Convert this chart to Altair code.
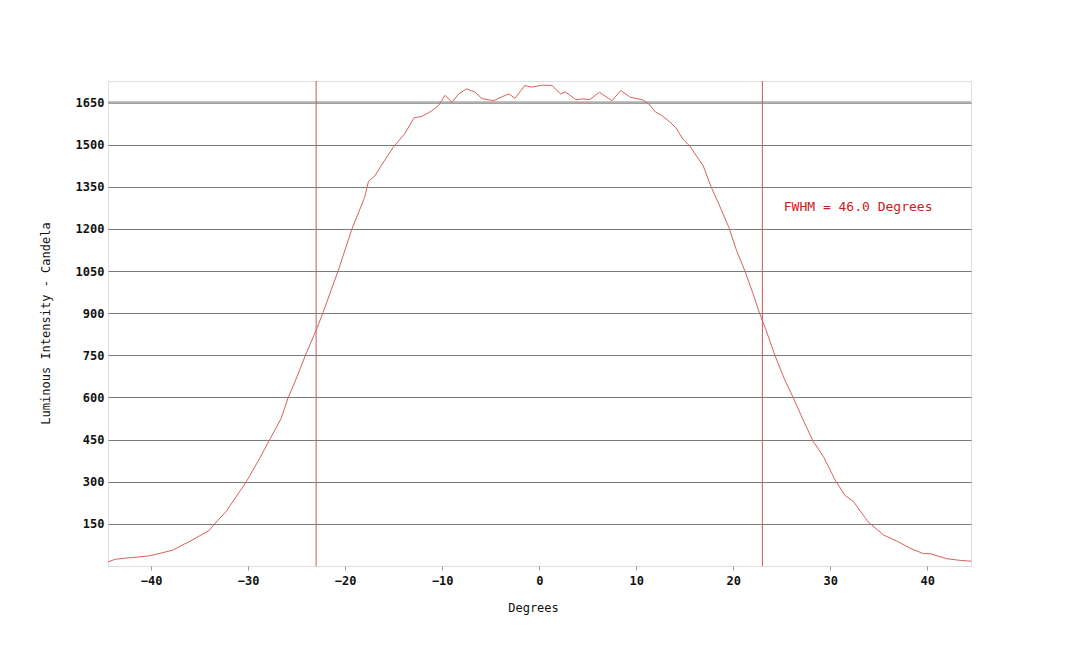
import altair as alt
import pandas as pd

degrees = [-44.5, -43.7, -42.0, -40.2, -37.8, -35.8, -34.0, -33.5, -32.3, -30.2,
           -28.9, -27.8, -26.6, -25.9, -25.1, -24.1, -22.9, -22.3, -20.7, -19.3,
           -18.0, -17.6, -16.95, -16.3, -15.05, -13.85, -12.9, -12.1, -11.1, -10.4,
           -9.7, -9.0, -8.3, -7.5, -6.6, -5.9, -4.7, -3.5, -3.1, -2.5,
           -1.5, -0.8, 0.3, 1.3, 2.2, 2.7, 3.8, 4.4, 5.2, 6.2,
           7.5, 8.4, 9.4, 10.65, 11.3, 12.0, 12.6, 13.4, 14.1, 14.8,
           15.5, 16.9, 17.7, 18.6, 19.55, 20.3, 21.2, 22.0, 22.7, 23.35,
           24.3, 25.3, 26.2, 27.2, 28.25, 29.3, 30.5, 31.5, 32.4, 33.9,
           35.5, 36.9, 38.3, 39.6, 40.3, 42.0, 43.4, 44.5]
candela = [14, 24, 30, 36, 56, 92, 127, 149, 193, 300,
           378, 449, 526, 598, 663, 750, 848, 901, 1054, 1201,
           1312, 1370, 1389, 1425, 1491, 1540, 1596, 1601, 1620, 1639,
           1676, 1651, 1681, 1699, 1687, 1664, 1657, 1676, 1681, 1665,
           1711, 1705, 1712, 1711, 1681, 1688, 1660, 1663, 1661, 1687,
           1657, 1693, 1669, 1660, 1645, 1616, 1605, 1583, 1560, 1520,
           1496, 1425, 1351, 1282, 1205, 1127, 1050, 973, 901, 842,
           749, 663, 598, 520, 443, 389, 306, 252, 229, 157,
           110, 88, 62, 44, 44, 26, 20, 17]

fwhm_x = [-23.0, 23.0]
y_ticks = [150, 300, 450, 600, 750, 900, 1050, 1200, 1350, 1500, 1650]
x_ticks = [-40, -30, -20, -10, 0, 10, 20, 30, 40]
note_text = ["FWHM = 46.0 Degrees"]
note_x = [25.2]
note_y = [1277]

FONT = "DejaVu Sans Mono"
XDOM = [-44.45, 44.5]
YDOM = [0, 1727]

curve = pd.DataFrame({"deg": degrees, "cd": candela})
fw = pd.DataFrame({"x": fwhm_x})
note = pd.DataFrame({"t": note_text, "x": note_x, "y": note_y})
top = pd.DataFrame({"y": [1650]})

xscale = alt.Scale(domain=XDOM, nice=False, zero=False)
yscale = alt.Scale(domain=YDOM, nice=False, zero=False)

line = alt.Chart(curve).mark_line(color="#d9605f", strokeWidth=1, clip=True).encode(
    x=alt.X("deg:Q", scale=xscale,
            axis=alt.Axis(values=x_ticks, title="Degrees", grid=False, tickSize=4,
                          tickColor="#999999", domain=False, format="d", labelFont=FONT,
                          labelFontWeight="bold", labelFontSize=12, labelColor="#111111",
                          labelPadding=5, titleFont=FONT, titleFontSize=12,
                          titleFontWeight="normal", titleColor="#111111",
                          titleX=425, titleY=41, titleBaseline="middle")),
    y=alt.Y("cd:Q", scale=yscale,
            axis=alt.Axis(values=y_ticks, title="Luminous Intensity - Candela", grid=True,
                          gridColor="#7a7a7a", gridWidth=1, tickSize=0, domain=False,
                          format="d", labelFont=FONT, labelFontWeight="bold", labelFontSize=12,
                          labelColor="#111111", labelPadding=4, titleFont=FONT,
                          titleFontSize=12, titleFontWeight="normal", titleColor="#111111",
                          titleX=-63, titleY=242, titleBaseline="middle", titleAngle=-90)),
)

toprule = alt.Chart(top).mark_rule(color="#b0b0b0", strokeWidth=2.5).encode(
    y=alt.Y("y:Q", scale=yscale)
)

fwhm = alt.Chart(fw).mark_rule(color="#c25a58", strokeWidth=1).encode(
    x=alt.X("x:Q", scale=xscale)
)

label = alt.Chart(note).mark_text(color="#cc2020", font=FONT, fontSize=13,
                                  align="left", baseline="middle").encode(
    x=alt.X("x:Q", scale=xscale),
    y=alt.Y("y:Q", scale=yscale),
    text="t:N",
)

chart = alt.layer(toprule, fwhm, line, label).properties(
    width=863, height=485,
    autosize=alt.AutoSizeParams(type="none"),
    padding={"left": 108, "top": 81, "right": 109, "bottom": 80},
).configure_view(stroke="#8c8c8c", strokeWidth=1.5).configure(background="white")

chart.save("out.html", embed_options={"renderer": "svg", "actions": False})
